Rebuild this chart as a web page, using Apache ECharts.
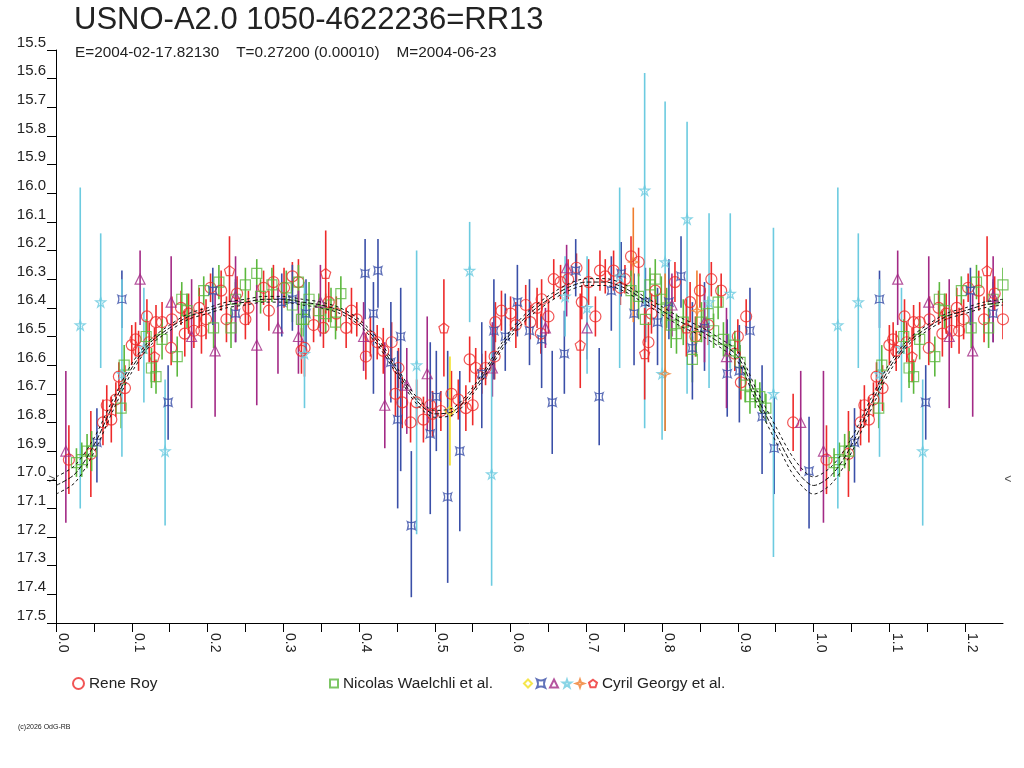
<!DOCTYPE html>
<html><head><meta charset="utf-8">
<script src="https://cdn.jsdelivr.net/npm/echarts/dist/echarts.min.js"></script>
<style>html,body{margin:0;padding:0;background:#fff}#c{width:1024px;height:768px}</style>
</head><body><div id="c"></div>
<script>
const chartTitle = 'USNO-A2.0 1050-4622236=RR13';
const chartSubtitle = 'E=2004-02-17.82130    T=0.27200 (0.00010)    M=2004-06-23';
const footer = '(c)2026 OdG-RB';
const seriesNames = ['Rene Roy', 'Nicolas Waelchli et al.', 'Cyril Georgy et al.'];

// fit curve, phase step 0.025 from 0 to 1.0
const curveStep = 0.025;
const curveMag = [17.02,16.98,16.88,16.74,16.61,16.52,16.47,16.43,16.41,16.39,16.38,16.37,16.37,16.38,16.39,16.41,16.45,16.52,16.62,16.72,16.77,16.76,16.69,16.59,16.49,16.42,16.37,16.33,16.31,16.31,16.33,16.37,16.41,16.45,16.48,16.52,16.57,16.71,16.84,16.96,17.02];
const curveHalf = [0.03,0.03,0.025,0.02,0.015,0.01,0.01,0.01,0.01,0.01,0.01,0.01,0.01,0.01,0.01,0.01,0.01,0.012,0.012,0.012,0.012,0.012,0.012,0.012,0.012,0.012,0.012,0.012,0.012,0.012,0.012,0.012,0.014,0.015,0.015,0.015,0.018,0.022,0.026,0.03,0.03];

// [phase, mag, err] or [phase, mag, barTop, barBottom]
const reneRoy = [[0.017,16.93,0.12],[0.046,16.91,0.15],[0.062,16.80,0.08],[0.067,16.74,0.07],[0.073,16.79,0.08],[0.079,16.72,0.06],[0.083,16.64,0.05],[0.091,16.68,0.08],[0.100,16.53,0.07],[0.105,16.51,0.06],[0.109,16.55,0.07],[0.120,16.43,0.06],[0.123,16.52,0.07],[0.132,16.45,0.06],[0.140,16.45,0.07],[0.152,16.54,0.06],[0.153,16.44,0.08],[0.165,16.40,0.06],[0.170,16.49,0.08],[0.175,16.42,0.07],[0.182,16.48,0.06],[0.189,16.40,0.07],[0.192,16.48,0.08],[0.198,16.44,0.07],[0.204,16.33,0.05],[0.218,16.34,0.07],[0.225,16.44,0.08],[0.239,16.35,0.06],[0.250,16.44,0.07],[0.254,16.40,0.06],[0.274,16.33,0.06],[0.281,16.41,0.07],[0.287,16.31,0.06],[0.301,16.33,0.07],[0.312,16.29,0.05],[0.320,16.31,0.08],[0.324,16.55,0.08],[0.328,16.54,0.10],[0.340,16.46,0.06],[0.353,16.47,0.07],[0.360,16.38,0.07],[0.370,16.42,0.06],[0.383,16.47,0.07],[0.390,16.41,0.08],[0.397,16.44,0.06],[0.409,16.57,0.08],[0.415,16.50,0.07],[0.424,16.52,0.06],[0.432,16.55,0.08],[0.443,16.52,0.07],[0.452,16.61,0.07],[0.448,16.70,0.08],[0.457,16.73,0.09],[0.468,16.80,0.07],[0.476,16.73,0.08],[0.485,16.79,0.08],[0.494,16.74,0.10],[0.497,16.77,0.08],[0.508,16.76,0.07],[0.522,16.70,0.08],[0.531,16.72,0.07],[0.541,16.75,0.08],[0.550,16.74,0.07],[0.546,16.58,0.08],[0.554,16.61,0.07],[0.562,16.63,0.07],[0.567,16.61,0.06],[0.579,16.57,0.08],[0.580,16.45,0.07],[0.588,16.41,0.07],[0.600,16.42,0.06],[0.607,16.46,0.08],[0.620,16.39,0.07],[0.626,16.45,0.06],[0.635,16.40,0.07],[0.640,16.49,0.07],[0.641,16.37,0.07],[0.650,16.43,0.06],[0.657,16.30,0.07],[0.666,16.31,0.06],[0.676,16.30,0.07],[0.687,16.26,0.05],[0.694,16.38,0.06],[0.703,16.31,0.08],[0.712,16.43,0.07],[0.718,16.27,0.07],[0.725,16.29,0.06],[0.736,16.27,0.07],[0.745,16.33,0.06],[0.751,16.30,0.05],[0.759,16.22,0.07],[0.769,16.24,0.05],[0.782,16.52,0.07],[0.786,16.42,0.07],[0.791,16.34,0.06],[0.817,16.31,0.07],[0.837,16.38,0.07],[0.844,16.50,0.07],[0.850,16.34,0.06],[0.865,16.30,0.06],[0.878,16.34,0.06],[0.861,16.46,0.07],[0.896,16.56,0.06],[0.900,16.50,0.06],[0.904,16.66,0.06],[0.911,16.43,0.06],[0.973,16.80,0.10]];

const waelchli = [[0.027,16.94,0.05],[0.034,16.93,0.06],[0.041,16.90,0.06],[0.047,16.90,0.07],[0.086,16.75,0.07],[0.090,16.60,0.07],[0.119,16.50,0.06],[0.126,16.61,0.07],[0.132,16.64,0.06],[0.140,16.51,0.07],[0.160,16.57,0.07],[0.166,16.37,0.06],[0.173,16.41,0.06],[0.195,16.34,0.05],[0.208,16.47,0.07],[0.215,16.31,0.06],[0.231,16.47,0.07],[0.237,16.37,0.06],[0.250,16.32,0.06],[0.265,16.28,0.05],[0.270,16.36,0.06],[0.285,16.32,0.06],[0.304,16.33,0.06],[0.312,16.39,0.06],[0.320,16.31,0.06],[0.324,16.44,0.06],[0.327,16.44,0.06],[0.334,16.37,0.06],[0.347,16.41,0.06],[0.356,16.42,0.07],[0.363,16.39,0.06],[0.369,16.45,0.06],[0.376,16.35,0.06],[0.759,16.34,0.07],[0.769,16.36,0.08],[0.778,16.44,0.07],[0.784,16.32,0.06],[0.791,16.30,0.07],[0.799,16.37,0.08],[0.806,16.40,0.07],[0.812,16.46,0.08],[0.819,16.49,0.07],[0.828,16.45,0.08],[0.840,16.58,0.08],[0.845,16.50,0.07],[0.852,16.45,0.07],[0.861,16.42,0.06],[0.868,16.48,0.06],[0.874,16.38,0.06],[0.881,16.51,0.06],[0.890,16.55,0.06],[0.896,16.53,0.05],[0.903,16.59,0.06],[0.910,16.67,0.06],[0.916,16.71,0.06],[0.923,16.70,0.05],[0.929,16.71,0.05],[0.937,16.75,0.05]];

const cgDiamond = [[0.520,16.76,16.57,16.95]];
const cgBlue = [[0.054,16.87,16.75,17.01],[0.087,16.37,16.27,16.47],[0.148,16.73,16.60,16.86],[0.207,16.34,16.26,16.46],[0.237,16.42,16.30,16.52],[0.298,16.38,16.28,16.50],[0.312,16.37,16.25,16.48],[0.330,16.42,16.30,16.55],[0.408,16.28,16.16,16.44],[0.425,16.27,16.16,16.40],[0.419,16.42,16.31,16.70],[0.455,16.50,16.33,16.97],[0.442,16.59,16.38,16.73],[0.451,16.79,16.55,17.10],[0.469,17.16,16.90,17.41],[0.494,16.84,16.52,17.12],[0.502,16.71,16.55,16.90],[0.517,17.06,16.55,17.36],[0.533,16.90,16.62,17.18],[0.562,16.63,16.45,16.82],[0.578,16.48,16.30,16.65],[0.593,16.50,16.35,16.62],[0.609,16.38,16.25,16.50],[0.625,16.48,16.30,16.60],[0.641,16.51,16.43,16.68],[0.655,16.73,16.55,16.91],[0.671,16.56,16.41,16.70],[0.686,16.27,16.16,16.36],[0.717,16.71,16.54,16.88],[0.733,16.34,16.22,16.48],[0.746,16.28,16.17,16.36],[0.763,16.42,16.28,16.60],[0.778,16.38,16.26,16.52],[0.794,16.45,16.33,16.60],[0.809,16.38,16.23,16.51],[0.825,16.29,16.15,16.40],[0.840,16.54,16.38,16.72],[0.856,16.47,16.31,16.62],[0.886,16.63,16.44,16.78],[0.902,16.62,16.46,16.80],[0.916,16.48,16.33,16.68],[0.932,16.78,16.60,16.98],[0.948,16.89,16.71,17.05],[0.994,16.97,16.78,17.17]];
const cgTriangle = [[0.013,16.90,16.62,17.15],[0.111,16.30,16.20,16.46],[0.152,16.38,16.22,16.56],[0.179,16.50,16.30,16.75],[0.210,16.55,16.35,16.78],[0.237,16.36,16.22,16.52],[0.265,16.53,16.32,16.74],[0.293,16.47,16.33,16.63],[0.320,16.50,16.34,16.63],[0.349,16.38,16.25,16.50],[0.406,16.50,16.38,16.62],[0.434,16.74,16.52,16.89],[0.463,16.67,16.54,16.84],[0.490,16.63,16.43,16.83],[0.576,16.61,16.45,16.71],[0.646,16.47,16.40,16.54],[0.674,16.26,16.18,16.43],[0.701,16.47,16.40,16.58],[0.813,16.39,16.28,16.50],[0.856,16.45,16.33,16.59],[0.885,16.57,16.40,16.75],[0.983,16.80,16.62,16.97]];
const cgStar = [[0.032,16.46,15.98,17.10],[0.059,16.38,16.14,16.61],[0.087,16.63,16.30,16.92],[0.116,16.54,16.33,16.73],[0.144,16.90,16.65,17.16],[0.328,16.56,16.31,16.75],[0.476,16.60,16.20,17.19],[0.546,16.27,16.10,16.45],[0.575,16.98,16.50,17.37],[0.672,16.36,16.22,16.50],[0.701,16.40,16.22,16.63],[0.744,16.29,15.98,16.61],[0.777,15.99,15.58,16.82],[0.804,16.24,15.68,16.83],[0.800,16.63,16.41,16.86],[0.833,16.09,15.75,16.70],[0.862,16.38,16.07,16.68],[0.890,16.35,16.07,16.62],[0.947,16.70,16.12,17.27]];
const cgOrange = [[0.762,16.24,16.05,16.45],[0.804,16.63,16.28,16.83],[0.846,16.41,16.27,16.52]];
const cgPentagon = [[0.130,16.57,16.47,16.66],[0.229,16.27,16.15,16.38],[0.356,16.28,16.13,16.42],[0.512,16.47,16.30,16.64],[0.692,16.53,16.35,16.68],[0.777,16.56,16.40,16.72],[0.832,16.47,16.37,16.57]];

const limitMag = 17.0;
const xMin = 0, xMax = 1.25;

// phase-folded data is shown once more beyond phase 1
function wrap(arr) {
  const extra = arr.filter(d => d[0] + 1 <= xMax).map(d => [d[0] + 1].concat(d.slice(1)));
  return arr.concat(extra);
}
function bars(arr) {
  return wrap(arr).map(d => d.length === 3 ? [d[0], d[1] - d[2], d[1] + d[2]] : [d[0], d[2], d[3]]);
}
function pts(arr) { return wrap(arr).map(d => [d[0], d[1]]); }

const curvePhases = curveMag.map((m, i) => i * curveStep);
function curveLine(sign) {
  const out = curveMag.map((m, i) => [curvePhases[i], m + sign * curveHalf[i]]);
  for (let i = 1; i < curveMag.length && 1 + curvePhases[i] <= xMax + 1e-9; i++) {
    out.push([1 + curvePhases[i], curveMag[i] + sign * curveHalf[i]]);
  }
  return out;
}

const RED = '#ee2a2a', GREEN = '#5cb83e', BLUE = '#3a4fa8', PURPLE = '#a32a86', CYAN = '#6ccbe0', YELLOW = '#f2e020', ORANGE = '#f07e2e';
const FONT = 'Liberation Sans';

const SYM_BLUE = 'path://M0,0 Q5,2.5 10,0 Q7.5,5 10,10 Q5,7.5 0,10 Q2.5,5 0,0 Z';
const SYM_STAR = 'path://M5,0 L6.2,3.6 L10,3.6 L6.9,5.9 L8.1,9.5 L5,7.3 L1.9,9.5 L3.1,5.9 L0,3.6 L3.8,3.6 Z';
const SYM_4STAR = 'path://M5,0 L6.3,3.7 L10,5 L6.3,6.3 L5,10 L3.7,6.3 L0,5 L3.7,3.7 Z';
const SYM_PENT = 'path://M5,0 L10,3.6 L8.1,9.5 L1.9,9.5 L0,3.6 Z';

function barSeries(arr, color) {
  return {
    type: 'custom', silent: true, z: 2, clip: true,
    encode: { x: 0, y: [1, 2] },
    data: bars(arr),
    renderItem: function (params, api) {
      const p = api.coord([api.value(0), api.value(1)]);
      const q = api.coord([api.value(0), api.value(2)]);
      return { type: 'line', shape: { x1: p[0], y1: p[1], x2: q[0], y2: q[1] }, style: { stroke: color, lineWidth: 1.6 } };
    }
  };
}
function markSeries(name, arr, color, symbol, size) {
  return {
    name: name, type: 'scatter', z: 3, symbol: symbol, symbolSize: size,
    itemStyle: { color: 'rgba(255,255,255,0)', borderColor: color, borderWidth: 1.2 },
    data: pts(arr)
  };
}
function curveSeries(data, dash) {
  return { type: 'line', z: 4, silent: true, data: data, showSymbol: false, symbol: 'none', smooth: 0.3,
    lineStyle: { color: '#111', width: 1, type: dash } };
}

const cgNames = ['cg_diamond', 'cg_blue', 'cg_tri', 'cg_star', 'cg_orange', seriesNames[2]];

const option = {
  animation: false,
  backgroundColor: '#fff',
  textStyle: { fontFamily: FONT },
  title: [
    { text: chartTitle, left: 69, top: 0, textStyle: { fontSize: 31, fontWeight: 'normal', color: '#222', fontFamily: FONT } },
    { text: chartSubtitle, left: 70, top: 40, textStyle: { fontSize: 15.3, fontWeight: 'normal', color: '#222', fontFamily: FONT } },
    { text: footer, left: 13, top: 719, textStyle: { fontSize: 7, fontWeight: 'normal', color: '#222', fontFamily: FONT } }
  ],
  grid: { left: 56, right: 21, top: 50, bottom: 145, containLabel: false },
  legend: [
    { data: [seriesNames[0]], left: 67, top: 671, itemWidth: 11, itemHeight: 11, icon: 'circle',
      textStyle: { fontSize: 15.4, color: '#222', fontFamily: FONT } },
    { data: [seriesNames[1]], left: 324, top: 671, itemWidth: 8, itemHeight: 8,
      textStyle: { fontSize: 15.4, color: '#222', fontFamily: FONT } },
    { data: cgNames, left: 518, top: 671, itemWidth: 8, itemHeight: 8, itemGap: 3,
      formatter: function (n) { return n === seriesNames[2] ? n : ''; },
      textStyle: { fontSize: 15.4, color: '#222', fontFamily: FONT } }
  ],
  xAxis: {
    type: 'value', min: xMin, max: xMax, interval: 0.05,
    axisLine: { show: true, onZero: false, lineStyle: { color: '#000', width: 1 } },
    axisTick: { show: true, length: 9, lineStyle: { color: '#000' } },
    splitLine: { show: false },
    axisLabel: {
      rotate: -90, margin: 10, fontSize: 14, color: '#222', fontFamily: FONT, verticalAlign: 'bottom',
      showMaxLabel: false,
      formatter: function (v) { const k = Math.round(v * 100); return k % 10 === 0 ? (k / 100).toFixed(1) : ''; }
    }
  },
  yAxis: {
    type: 'value', inverse: true, min: 15.5, max: 17.5, interval: 0.1,
    axisLine: { show: true, onZero: false, lineStyle: { color: '#000', width: 1 } },
    axisTick: { show: true, length: 9, lineStyle: { color: '#000' } },
    splitLine: { show: false },
    axisLabel: { margin: 10, fontSize: 15, color: '#222', fontFamily: FONT, verticalAlign: 'bottom',
      formatter: function (v) { return v.toFixed(1); } }
  },
  series: [
    barSeries(reneRoy, RED),
    barSeries(waelchli, GREEN),
    barSeries(cgBlue, BLUE),
    barSeries(cgTriangle, PURPLE),
    barSeries(cgStar, CYAN),
    barSeries(cgOrange, ORANGE),
    barSeries(cgPentagon, RED),
    barSeries(cgDiamond, YELLOW),
    markSeries(seriesNames[0], reneRoy, RED, 'circle', 11),
    markSeries(seriesNames[1], waelchli, GREEN, 'rect', 10),
    markSeries('cg_blue', cgBlue, BLUE, SYM_BLUE, 8),
    markSeries('cg_tri', cgTriangle, PURPLE, 'triangle', 10),
    markSeries('cg_star', cgStar, CYAN, SYM_STAR, 10),
    markSeries('cg_orange', cgOrange, ORANGE, SYM_4STAR, 10),
    markSeries(seriesNames[2], cgPentagon, RED, SYM_PENT, 10),
    markSeries('cg_diamond', cgDiamond, YELLOW, 'diamond', 10),
    curveSeries(curveLine(-1), [3, 3]),
    curveSeries(curveLine(0), [5, 2]),
    curveSeries(curveLine(1), [3, 3]),
    {
      type: 'scatter', silent: true, symbolSize: 1, z: 5, clip: false,
      itemStyle: { color: 'rgba(0,0,0,0)' },
      data: [
        { value: [xMin, limitMag], label: { show: true, formatter: '>', position: 'left', distance: 0 } },
        { value: [xMax, limitMag], label: { show: true, formatter: '<', position: 'right', distance: 1 } }
      ],
      label: { fontSize: 12, color: '#222', fontFamily: FONT }
    }
  ]
};
const chart = echarts.init(document.getElementById('c'));
chart.setOption(option);
</script>
</body></html>
